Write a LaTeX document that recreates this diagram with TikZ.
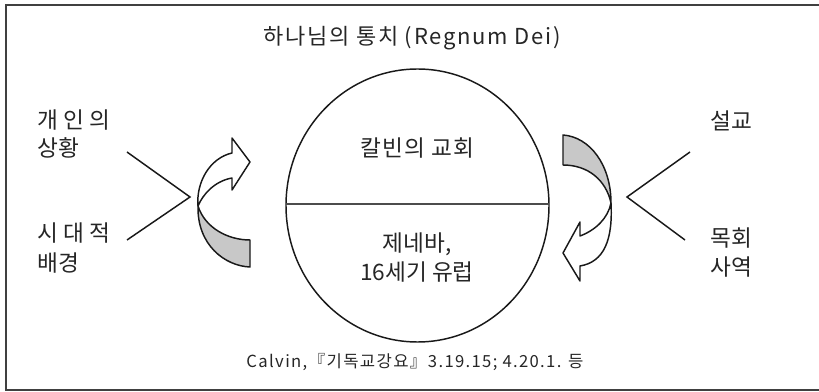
\documentclass[tikz,border=0pt]{standalone}
\usepackage{fontspec}
\setmainfont{Noto Sans CJK KR}
\newfontfamily\widefont[LetterSpace=8]{Noto Sans CJK KR}
\newfontfamily\semiwidefont[LetterSpace=5]{Noto Sans CJK KR}
\begin{document}
\begin{tikzpicture}[x=0.75pt,y=-0.75pt,
  txt/.style={text=black!85, inner sep=0pt, font=\fontsize{17}{21.5}\selectfont},
  ttl/.style={text=black!85, inner sep=0pt, font=\widefont\fontsize{16.5}{20}\selectfont},
  cite/.style={text=black!85, inner sep=0pt, font=\widefont\fontsize{12.5}{15}\selectfont},
  frame/.style={draw=black!75, line width=1.8pt},
  ln/.style={draw=black!90, line width=1.1pt},
  rib/.style={draw=black!90, line width=1.1pt, fill=white, line join=round},
  ribback/.style={draw=black!90, line width=1.1pt, fill={rgb,255:red,200;green,200;blue,200}, line join=round}]
\useasboundingbox (0,0) rectangle (819,392);
\draw[frame] (830,5) -- (6,5) -- (6,390) -- (830,390);

% title
\node[ttl] (title) at (412,38) {하나님의 통치 (Regnum Dei)};

% world circle
\draw[ln] (417.5,205.5) ellipse [x radius=131.5, y radius=136.5];
\coordinate (hl) at (286,204);
\coordinate (hr) at (549,204);
\draw[ln, draw=black!70, line width=1.4pt] (hl) -- (hr);
\node[txt, font=\semiwidefont\fontsize{17}{21.5}\selectfont] (church) at (417,148) {칼빈의 교회};
\node[txt, align=center, font=\fontsize{17}{22}\selectfont] (geneva) at (417,257.5) {제네바,\\16세기 유럽};

% left texts and bracket
\node[txt, anchor=west, align=left] (personal) at (37,134) {개 인 의\\상황};
\node[txt, anchor=west, align=left, font=\fontsize{17}{22.5}\selectfont] (era) at (37,248) {시 대 적\\배경};
\coordinate (la) at (127,152);
\coordinate (lv) at (190,197);
\coordinate (lb) at (127,240);
\draw[ln] (la) -- (lv) -- (lb);

% right texts and bracket
\node[txt, anchor=west] (sermon) at (710,121) {설교};
\node[txt, anchor=west, align=left] (pastor) at (710,252.5) {목회\\사역};
\coordinate (ra) at (690,152);
\coordinate (rv) at (627,197);
\coordinate (rb) at (685,240);
\draw[ln] (ra) -- (rv) -- (rb);

% left twisted arrow
\filldraw[ribback] (198,206) .. controls (197,245) and (225,266) .. (250,267) -- (250,240)
  .. controls (228,240) and (205,228) .. (198,206) -- cycle;
\filldraw[rib] (198,206) .. controls (196,182) and (210,158) .. (232,153) -- (232,138) -- (250,162)
  -- (232,190) -- (232,178) .. controls (215,181) and (203,194) .. (198,206) -- cycle;

% right twisted arrow
\filldraw[ribback] (563,135) .. controls (590,137) and (611,165) .. (611,203)
  .. controls (606,180) and (588,165) .. (563,165) -- cycle;
\filldraw[rib] (611,203) .. controls (613,240) and (604,262) .. (580,266) -- (580,281) -- (563,253)
  -- (580,222) -- (580,236) .. controls (596,230) and (608,218) .. (611,203) -- cycle;

% citation
\node[cite] (src) at (415,362) {Calvin,『기독교강요』3.19.15; 4.20.1. 등};
\end{tikzpicture}
\end{document}
